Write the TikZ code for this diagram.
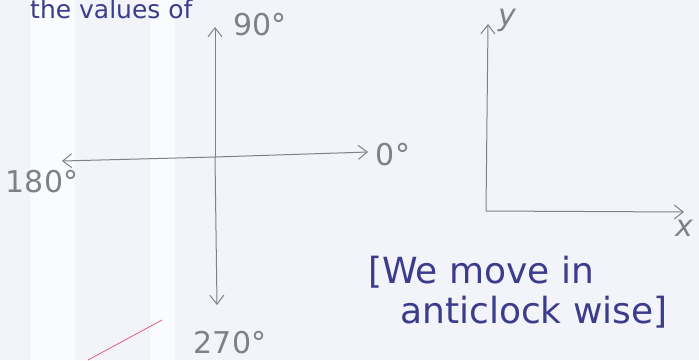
\documentclass[tikz,border=0pt]{standalone}
\usepackage{fontspec}
\setmainfont{DejaVu Sans}
\usetikzlibrary{arrows.meta}
\definecolor{pencil}{HTML}{808088}
\definecolor{ink}{HTML}{3C3C8C}
\definecolor{paper}{HTML}{F3F4F9}
\definecolor{stripe}{HTML}{FAFBFD}
\definecolor{redline}{HTML}{D8607A}
\begin{document}
\begin{tikzpicture}[x=1pt,y=-1pt,
  axis/.style={draw=pencil,line width=1pt,-{Straight Barb[length=9pt,width=14pt]}},
  plbl/.style={text=pencil,font=\fontsize{30}{32}\selectfont,inner sep=0pt},
  inklbl/.style={text=ink,font=\fontsize{36}{40}\selectfont,inner sep=0pt,align=left}]
\fill[paper] (0,0) rectangle (699,360);
\fill[stripe] (30,0) rectangle (75,360);
\fill[stripe] (150,0) rectangle (175,360);
\useasboundingbox (0,0) rectangle (699,360);
\node[text=ink,font=\fontsize{25}{28}\selectfont,inner sep=0pt,anchor=base west] (top) at (30,18) {the values of};
% left diagram
\coordinate (c) at (215,157);
\coordinate (up) at (215,27);
\coordinate (dn) at (217,305);
\coordinate (lt) at (62,161);
\coordinate (rt) at (368,152);
\draw[axis] (c) -- (up);
\draw[axis] (c) -- (dn);
\draw[axis] (c) -- (lt);
\draw[axis] (c) -- (rt);
\node[plbl] (n90) at (260,25) {90°};
\node[plbl] (n0) at (393,155) {0°};
\node[plbl] (n180) at (42,182) {180°};
\node[plbl] (n270) at (230,343) {270°};
% right axes
\coordinate (o) at (486,211);
\coordinate (yt) at (488,24);
\coordinate (xt) at (684,212);
\draw[axis] (o) -- (yt);
\draw[axis] (o) -- (xt);
\node[plbl,font=\itshape\fontsize{30}{32}\selectfont] (ly) at (507,20) {y};
\node[plbl,font=\itshape\fontsize{30}{32}\selectfont] (lx) at (684,228) {x};
% note
\node[inklbl,anchor=north west] (note) at (368,256) {[We move in\\\hspace*{32pt}anticlock wise]};
% red stroke
\coordinate (r1) at (88,360);
\coordinate (r2) at (162,320);
\draw[redline,line width=0.8pt] (r1) -- (r2);
\end{tikzpicture}
\end{document}
